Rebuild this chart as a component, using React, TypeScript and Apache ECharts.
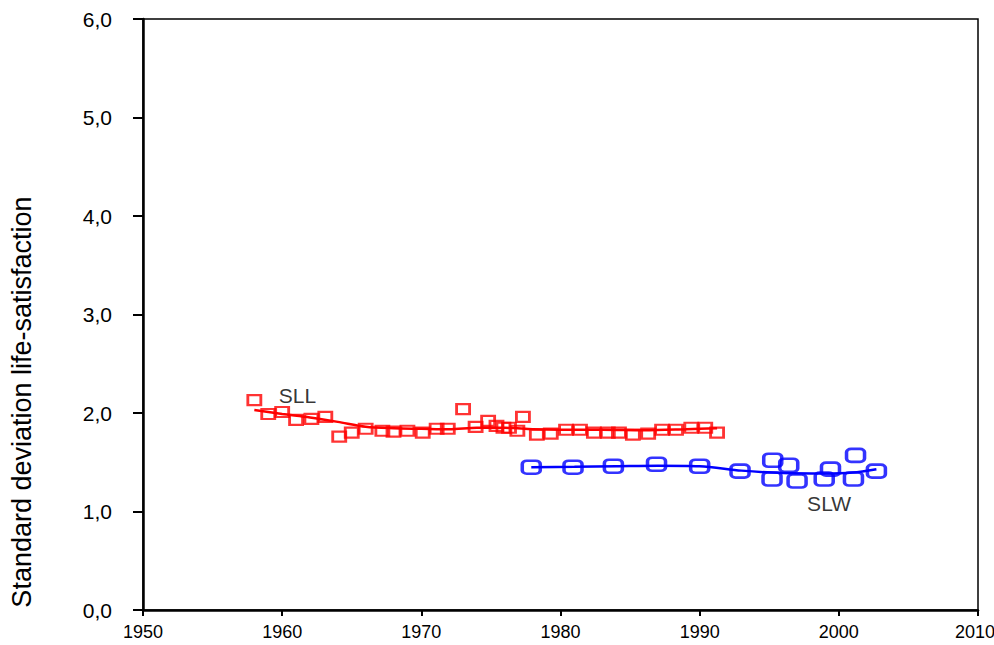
import React, { useEffect, useRef } from "react";
import * as echarts from "echarts";

const sllYears = [1958.0, 1959.0, 1960.0, 1961.0, 1962.1, 1963.1, 1964.1, 1965.0, 1966.0, 1967.2, 1968.0, 1969.0, 1970.1, 1971.1, 1971.9, 1973.0, 1973.9, 1974.8, 1975.4, 1975.9, 1976.3, 1976.9, 1977.3, 1978.3, 1979.3, 1980.4, 1981.4, 1982.4, 1983.4, 1984.2, 1985.2, 1986.3, 1987.3, 1988.3, 1989.4, 1990.4, 1991.25];
const sllValues = [2.13, 1.99, 2.01, 1.93, 1.94, 1.96, 1.76, 1.80, 1.84, 1.82, 1.81, 1.82, 1.80, 1.84, 1.84, 2.04, 1.86, 1.92, 1.87, 1.85, 1.85, 1.82, 1.96, 1.78, 1.79, 1.83, 1.83, 1.80, 1.80, 1.80, 1.78, 1.79, 1.83, 1.83, 1.85, 1.85, 1.80];

const sllFitYears = [1958, 1960, 1962, 1964, 1966, 1968, 1970, 1972, 1974, 1976, 1978, 1980, 1983, 1986, 1989, 1991.25];
const sllFitValues = [2.03, 1.99, 1.955, 1.91, 1.86, 1.845, 1.84, 1.835, 1.85, 1.85, 1.835, 1.83, 1.83, 1.825, 1.835, 1.845];

const slwYears = [1977.9, 1980.9, 1983.8, 1986.9, 1990.0, 1992.9, 1995.25, 1995.2, 1996.4, 1997.0, 1998.95, 1999.4, 2001.2, 2001.05, 2002.7];
const slwValues = [1.45, 1.45, 1.46, 1.48, 1.46, 1.41, 1.52, 1.33, 1.47, 1.31, 1.33, 1.43, 1.57, 1.33, 1.41];

const slwFitYears = [1977.9, 1981, 1984, 1987, 1990, 1993, 1996, 1999, 2001, 2002.7];
const slwFitValues = [1.45, 1.455, 1.46, 1.465, 1.46, 1.415, 1.39, 1.385, 1.395, 1.43];

const seriesLabels = ["SLL", "SLW"];
const labelYears = [1961.1, 1999.3];
const labelValues = [2.18, 1.08];

const yTicks = [0, 1, 2, 3, 4, 5, 6];
const xTicks = [1950, 1960, 1970, 1980, 1990, 2000, 2010];

const FONT = "'Liberation Sans', Arial, sans-serif";

function zip(xs: number[], ys: number[]) {
  return xs.map((x, i) => [x, ys[i]]);
}

export default function App() {
  const ref = useRef<HTMLDivElement>(null);
  useEffect(() => {
    if (!ref.current) return;
    document.body.style.margin = "0";
    document.body.style.overflow = "hidden";
    const chart = echarts.init(ref.current, undefined, { renderer: "svg", width: 994, height: 645 });
    const lastX = xTicks[xTicks.length - 1];
    chart.setOption({
      animation: false,
      backgroundColor: "#ffffff",
      grid: {
        left: 143,
        right: 16,
        top: 19,
        bottom: 35,
        containLabel: false,
        outerBoundsMode: "none",
        show: true,
        borderColor: "#000",
        borderWidth: 1.5,
        backgroundColor: "transparent",
      },
      xAxis: {
        type: "value",
        min: xTicks[0],
        max: lastX,
        interval: 10,
        axisLine: { show: true, lineStyle: { color: "#000", width: 2.5 } },
        axisTick: { show: true, inside: false, length: 6, lineStyle: { color: "#000", width: 2 } },
        axisLabel: {
          color: "#000",
          fontSize: 18,
          fontFamily: FONT,
          margin: 13,
          formatter: (v: number) => (v === lastX ? "{last|" + v + "}" : String(v)),
          rich: {
            last: { fontSize: 18, fontFamily: FONT, color: "#000", width: 46, align: "left" },
          },
        },
        splitLine: { show: false },
      },
      yAxis: {
        type: "value",
        min: yTicks[0],
        max: yTicks[yTicks.length - 1],
        interval: 1,
        axisLine: { show: true, lineStyle: { color: "#000", width: 2.5 } },
        axisTick: { show: true, inside: false, length: 10, lineStyle: { color: "#000", width: 2 } },
        axisLabel: {
          color: "#000",
          fontSize: 21,
          fontFamily: FONT,
          margin: 31,
          formatter: (v: number) => v.toFixed(1).replace(".", ","),
        },
        splitLine: { show: false },
      },
      graphic: [
        {
          type: "text",
          x: 22,
          y: 402,
          rotation: Math.PI / 2,
          style: {
            text: "Standard deviation life-satisfaction",
            fontSize: 27,
            fontFamily: FONT,
            fill: "#000",
            textAlign: "center",
            textVerticalAlign: "middle",
          },
        },
      ],
      series: [
        {
          type: "line",
          data: zip(sllFitYears, sllFitValues),
          smooth: 0.3,
          showSymbol: false,
          lineStyle: { color: "#ff0000", width: 2.5 },
          z: 2,
        },
        {
          type: "scatter",
          data: zip(sllYears, sllValues),
          symbol: "rect",
          symbolSize: [13, 10],
          itemStyle: { color: "rgba(0,0,0,0)", borderColor: "#ff0000", borderWidth: 2.5 },
          z: 3,
        },
        {
          type: "line",
          data: zip(slwFitYears, slwFitValues),
          smooth: 0.3,
          showSymbol: false,
          lineStyle: { color: "#0000ff", width: 2.5 },
          z: 2,
        },
        {
          type: "scatter",
          data: zip(slwYears, slwValues),
          symbol: "roundRect",
          symbolSize: [18, 13],
          itemStyle: { color: "rgba(0,0,0,0)", borderColor: "#0000ff", borderWidth: 3 },
          z: 3,
        },
        {
          type: "scatter",
          data: labelYears.map((x, i) => ({ value: [x, labelValues[i]], name: seriesLabels[i] })),
          symbolSize: 0,
          silent: true,
          label: {
            show: true,
            position: "inside",
            formatter: (p: any) => p.name,
            color: "#000",
            fontSize: 21,
            fontFamily: FONT,
          },
          z: 4,
        },
      ],
    });
    return () => chart.dispose();
  }, []);
  return (
    <div
      ref={ref}
      style={{ position: "absolute", left: 0, top: 0, width: 994, height: 645 }}
    />
  );
}
